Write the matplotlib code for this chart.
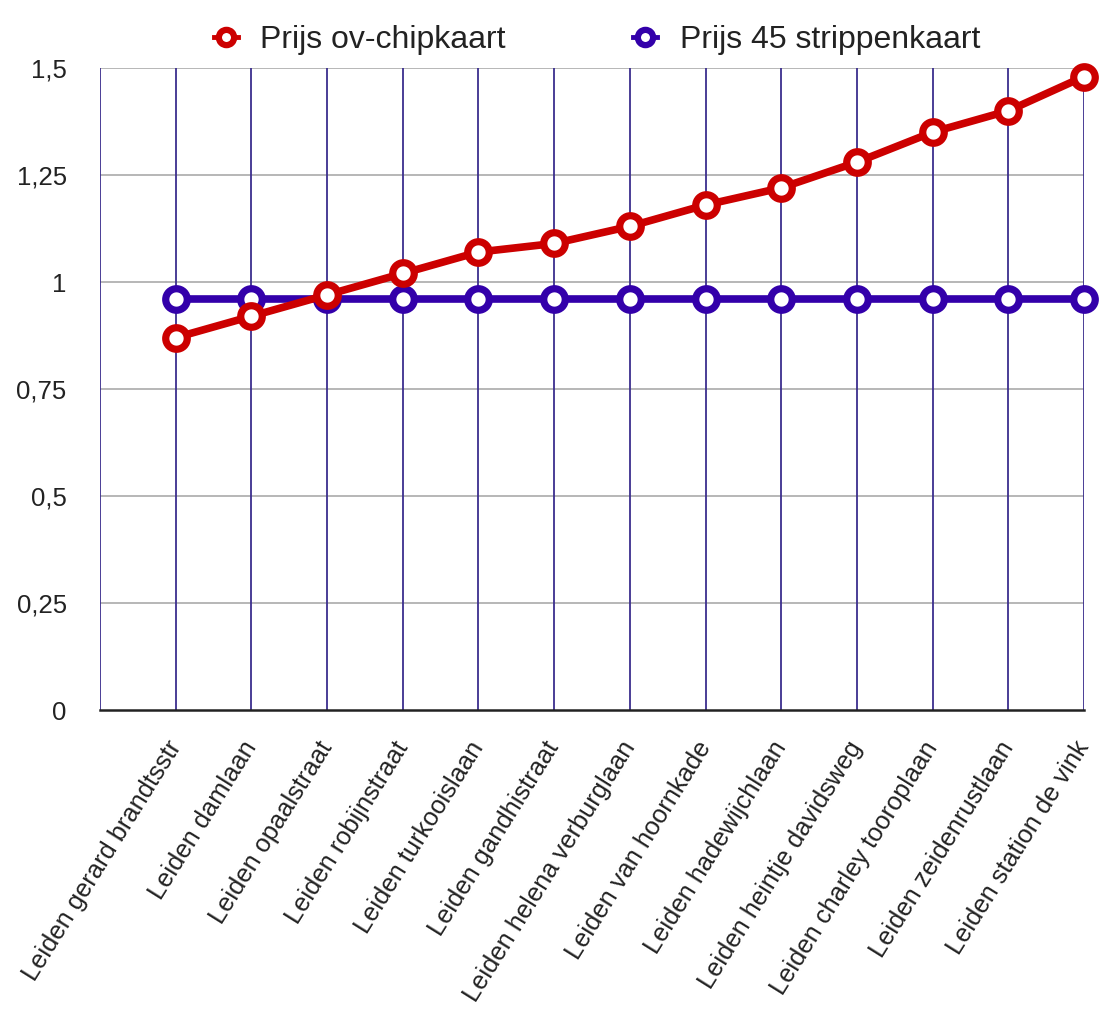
import matplotlib
matplotlib.use("Agg")
import matplotlib.pyplot as plt
from matplotlib.lines import Line2D
from matplotlib.ticker import FuncFormatter

plt.rcParams['font.family'] = ['Liberation Sans', 'DejaVu Sans']

categories = ["Leiden gerard brandtsstr", "Leiden damlaan", "Leiden opaalstraat",
              "Leiden robijnstraat", "Leiden turkooislaan", "Leiden gandhistraat",
              "Leiden helena verburglaan", "Leiden van hoornkade", "Leiden hadewijchlaan",
              "Leiden heintje davidsweg", "Leiden charley tooroplaan", "Leiden zeidenrustlaan",
              "Leiden station de vink"]
ov_chip = [0.87, 0.92, 0.97, 1.02, 1.07, 1.09, 1.13, 1.18, 1.22, 1.28, 1.35, 1.40, 1.48]
strippen = [0.96] * 13
series_names = ["Prijs ov-chipkaart", "Prijs 45 strippenkaart"]
yticks = [0, 0.25, 0.5, 0.75, 1, 1.25, 1.5]

red = "#CC0000"
blue = "#3300AA"
vgrid = "#3B2E8E"
hgrid = "#AAAAAA"

fig = plt.figure(figsize=(11.01, 10.10), dpi=100)
ax = fig.add_axes([100/1101, 1 - 710/1010, (1084-100)/1101, (710-68)/1010])

x = list(range(len(categories)))
ax.set_xlim(-1, len(categories) - 1)
ax.set_ylim(0, 1.5)

for yv in yticks[1:]:
    ax.axhline(yv, color=hgrid, lw=1.2, zorder=1)
for xv in [-1] + x:
    ax.axvline(xv, color=vgrid, lw=1.3, zorder=1)

ax.plot(x, strippen, color=blue, lw=5.5, marker='o', ms=15.5, mfc='white', mec=blue, mew=5.2,
        zorder=3, clip_on=False)
ax.plot(x, ov_chip, color=red, lw=5.5, marker='o', ms=15.5, mfc='white', mec=red, mew=5.2,
        zorder=4, clip_on=False)

for s in ['top', 'right', 'left']:
    ax.spines[s].set_visible(False)
ax.spines['bottom'].set_color('#222222')
ax.spines['bottom'].set_linewidth(1.8)
ax.spines['bottom'].set_zorder(5)

ax.set_yticks(yticks)
ax.yaxis.set_major_formatter(FuncFormatter(lambda v, p: ('%g' % v).replace('.', ',')))
ax.tick_params(axis='y', length=0, pad=24, labelsize=18.5, labelcolor='#222222')
ax.set_xticks(x)
ax.set_xticklabels(categories, rotation=58, ha='right', va='center', rotation_mode='anchor',
                   fontsize=18.3, color='#222222')
ax.tick_params(axis='x', length=0, pad=24)

handles = [Line2D([], [], color=red, lw=3.5, marker='o', ms=11, mfc='white', mec=red, mew=4.5),
           Line2D([], [], color=blue, lw=3.5, marker='o', ms=11, mfc='white', mec=blue, mew=4.5)]
fig.legend(handles, series_names, loc='upper center', bbox_to_anchor=(0.542, 1.004), ncol=2,
           frameon=False, fontsize=23, handlelength=0.75, handletextpad=0.7, columnspacing=4.0,
           labelcolor='#222222')

fig.savefig("out.png", dpi=100, facecolor='white')
